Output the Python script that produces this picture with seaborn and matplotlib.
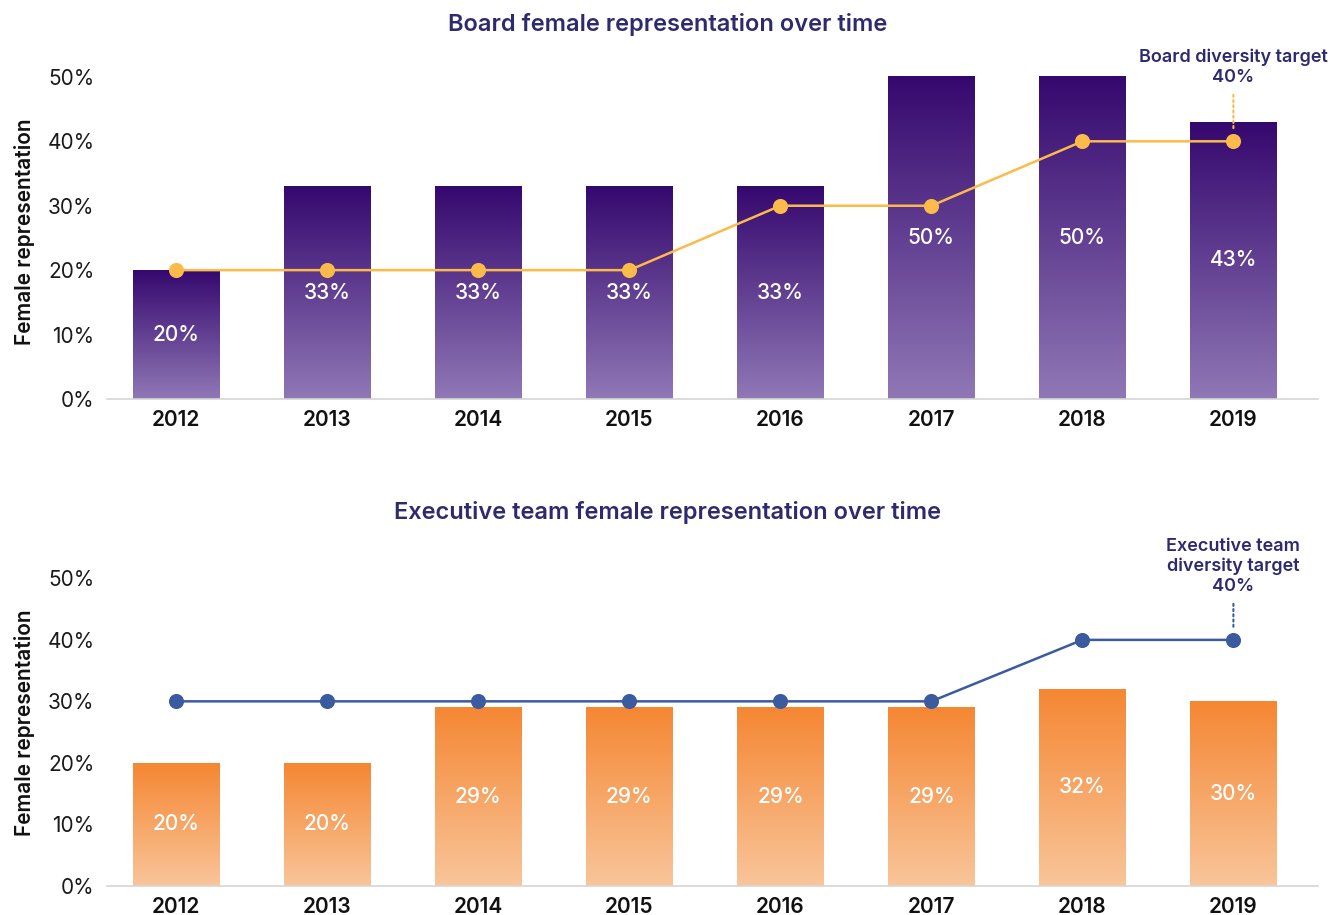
import numpy as np
import matplotlib.pyplot as plt
import matplotlib.colors as mcolors
import seaborn as sns

# values (percent)
years = ["2012", "2013", "2014", "2015", "2016", "2017", "2018", "2019"]
board_share = [20, 33, 33, 33, 33, 50, 50, 43]
board_target = [20, 20, 20, 20, 30, 30, 40, 40]
exec_share = [20, 20, 29, 29, 29, 29, 32, 30]
exec_target = [30, 30, 30, 30, 30, 30, 40, 40]

TITLE_COLOR = "#2E2A6E"

sns.set_theme(style="white")
plt.rcParams["font.family"] = ["Inter", "DejaVu Sans"]


def gradient_bars(ax, top_color, bottom_color):
    """Replace the flat bar fill with a vertical gradient (dark on top)."""
    cmap = mcolors.LinearSegmentedColormap.from_list("bar", [bottom_color, top_color])
    grad = np.linspace(0, 1, 256).reshape(-1, 1)
    for bar in ax.patches:
        x0, y0 = bar.get_x(), bar.get_y()
        w, h = bar.get_width(), bar.get_height()
        bar.set_facecolor("none")
        bar.set_edgecolor("none")
        ax.imshow(grad, cmap=cmap, aspect="auto", origin="lower",
                  extent=[x0, x0 + w, y0, y0 + h], zorder=1)


def draw_panel(ax, shares, target, top_color, bottom_color, line_color,
               ymax, note, note_y, title, title_y):
    sns.barplot(x=years, y=shares, ax=ax, width=0.57, color=top_color,
                saturation=1, zorder=1)
    gradient_bars(ax, top_color, bottom_color)

    sns.pointplot(x=years, y=target, ax=ax, color=line_color,
                  markers="o", markersize=9.5, linewidth=1.8)
    for ln in ax.lines:
        ln.set_zorder(4)
    for coll in ax.collections:
        coll.set_zorder(5)

    # value labels in the middle of each bar
    for i, v in enumerate(shares):
        ax.text(i, v / 2, f"{v}%", ha="center", va="center",
                color="white", fontsize=15, fontweight="medium", zorder=6)

    # target callout
    last = len(years) - 1
    ax.annotate(note, xy=(last, target[-1]), xytext=(last, note_y),
                textcoords="data", ha="center", va="bottom",
                fontsize=13, fontweight="semibold", color=TITLE_COLOR,
                linespacing=1.2, annotation_clip=False,
                arrowprops=dict(arrowstyle="-", linestyle=(0, (1, 1.5)),
                                color=line_color, lw=1.5,
                                shrinkA=4, shrinkB=8))

    ax.set_xlim(-0.46, 7.56)
    ax.set_ylim(0, ymax)
    ax.set_yticks([0, 10, 20, 30, 40, 50])
    ax.set_yticklabels([f"{t}%" for t in [0, 10, 20, 30, 40, 50]],
                       fontsize=15, color="#1a1a1a")
    ax.tick_params(axis="y", length=0, pad=9)
    ax.tick_params(axis="x", length=0, pad=8)
    for lbl in ax.get_xticklabels():
        lbl.set_fontsize(15)
        lbl.set_fontweight("semibold")
        lbl.set_color("#111111")
    ax.set_xlabel("")
    ax.set_ylabel("Female representation", fontsize=15, fontweight="semibold",
                  color="#111111")
    ax.yaxis.set_label_coords(-0.059, 0.5)

    sns.despine(ax=ax, left=True)
    ax.spines["bottom"].set_color("#D6D6D6")
    ax.spines["bottom"].set_linewidth(1.2)

    fig.text(0.5, title_y, title, ha="center", va="center", fontsize=17,
             fontweight="semibold", color=TITLE_COLOR)


fig = plt.figure(figsize=(13.36, 9.15), dpi=100)
ax_top = fig.add_axes([0.080, 0.564, 0.9065, 0.366])
ax_bot = fig.add_axes([0.080, 0.032, 0.9065, 0.356])

draw_panel(ax_top, board_share, board_target, "#35086E", "#9078B6", "#FBBA4A",
           52, "Board diversity target\n40%", 48.6,
           "Board female representation over time", 1 - 25 / 915)
draw_panel(ax_bot, exec_share, exec_target, "#F58733", "#F9C59A", "#3A5BA0",
           53, "Executive team\ndiversity target\n40%", 47.3,
           "Executive team female representation over time", 1 - 513 / 915)

fig.savefig("out.png", dpi=100, facecolor="white")
